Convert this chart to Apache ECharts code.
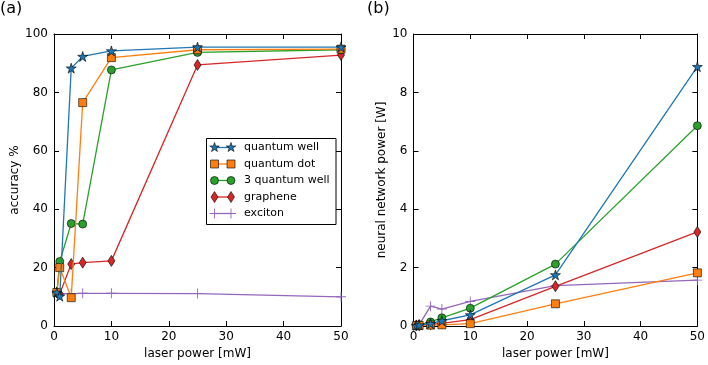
<!DOCTYPE html>
<html><head><meta charset="utf-8">
<script src="https://cdn.jsdelivr.net/npm/echarts@6/dist/echarts.min.js"></script>
<style>html,body{margin:0;padding:0;background:#fff}#c{width:708px;height:365px}</style>
</head><body><div id="c"></div>
<script>
// ---- data ----
const laserPower = [0.5, 1, 3, 5, 10, 25, 50];
const seriesNames = ['quantum well', 'quantum dot', '3 quantum well', 'graphene', 'exciton'];
const accQuantumWell   = [11.5, 10.2, 88.3, 92.3, 94.2, 95.5, 95.5];
const accQuantumDot    = [11.5, 20.0, 9.7, 76.5, 91.9, 94.6, 94.8];
const accThreeQW       = [11.5, 22.1, 35.1, 34.9, 87.7, 93.7, 94.6];
const accGraphene      = [11.5, 11.0, 21.2, 21.7, 22.3, 89.4, 92.8];
const accExciton       = [11.3, 11.0, 11.1, 11.2, 11.2, 11.1, 10.0];
const pwrQuantumWell   = [0.02, 0.03, 0.08, 0.18, 0.38, 1.75, 8.88];
const pwrQuantumDot    = [0.01, 0.02, 0.03, 0.04, 0.08, 0.76, 1.82];
const pwrThreeQW       = [0.02, 0.04, 0.14, 0.28, 0.61, 2.12, 6.86];
const pwrGraphene      = [0.02, 0.03, 0.06, 0.09, 0.22, 1.36, 3.22];
const pwrExciton       = [0.03, 0.05, 0.68, 0.58, 0.84, 1.38, 1.57];
const xTicks = [0, 10, 20, 30, 40, 50];
const accTicks = [0, 20, 40, 60, 80, 100];
const pwrTicks = [0, 2, 4, 6, 8, 10];

// ---- styles ----
const colors = ['#1f77b4', '#ff7f0e', '#2ca02c', '#d62728', '#9467bd'];
function starPts(cx, cy, R) {
  const r = R * 0.382, pts = [];
  for (let i = 0; i < 10; i++) {
    const a = -Math.PI / 2 + i * Math.PI / 5, rr = i % 2 ? r : R;
    pts.push([cx + rr * Math.cos(a), cy + rr * Math.sin(a)]);
  }
  return pts;
}
const starPath = 'path://' + starPts(10, 10, 10).map((p, i) => (i ? 'L' : 'M') + p[0].toFixed(2) + ',' + p[1].toFixed(2)).join(' ') + 'Z';
const plusPath = 'path://M4.55,0 L5.45,0 L5.45,4.55 L10,4.55 L10,5.45 L5.45,5.45 L5.45,10 L4.55,10 L4.55,5.45 L0,5.45 L0,4.55 L4.55,4.55 Z';
const symbols = [starPath, 'rect', 'circle', 'diamond', plusPath];
const symSizes = [10, 8, 8, [7, 11], 10];

const accData = [accQuantumWell, accQuantumDot, accThreeQW, accGraphene, accExciton];
const pwrData = [pwrQuantumWell, pwrQuantumDot, pwrThreeQW, pwrGraphene, pwrExciton];

function mkSeries(arr, xi, yi) {
  return arr.map((vals, k) => ({
    name: seriesNames[k], type: 'line', xAxisIndex: xi, yAxisIndex: yi,
    data: laserPower.map((x, i) => [x, vals[i]]),
    symbol: symbols[k], symbolSize: symSizes[k], showSymbol: true,
    lineStyle: { color: colors[k], width: 1.3 },
    itemStyle: { color: colors[k], borderColor: k === 4 ? colors[k] : '#000', borderWidth: k === 4 ? 0 : 0.6, opacity: 1 },
    z: 3 + (4 - k), animation: false, clip: true
  }));
}

const font = 'DejaVu Sans';
function xAx(grid, bottom) {
  return {
    type: 'value', gridIndex: grid, min: 0, max: 50, interval: 10, position: bottom ? 'bottom' : 'top',
    name: bottom ? 'laser power [mW]' : '', nameLocation: 'middle', nameGap: 22,
    nameTextStyle: { color: '#000', fontSize: 12, fontFamily: font },
    axisLine: { show: true, onZero: false, lineStyle: { color: '#000', width: 1 } },
    axisTick: { show: true, inside: true, length: 5, lineStyle: { color: '#000' } },
    axisLabel: { show: bottom, color: '#000', fontSize: 12, fontFamily: font, margin: 5 },
    splitLine: { show: false }
  };
}
function yAx(grid, left, max, interval, name, gap) {
  return {
    type: 'value', gridIndex: grid, min: 0, max: max, interval: interval, position: left ? 'left' : 'right',
    name: left ? name : '', nameLocation: 'middle', nameGap: gap,
    nameTextStyle: { color: '#000', fontSize: 12, fontFamily: font },
    axisLine: { show: true, onZero: false, lineStyle: { color: '#000', width: 1 } },
    axisTick: { show: true, inside: true, length: 5, lineStyle: { color: '#000' } },
    axisLabel: { show: left, color: '#000', fontSize: 12, fontFamily: font, margin: 6 },
    splitLine: { show: false }
  };
}

// legend drawn manually (matplotlib style)
const legEls = [{ type: 'rect', shape: { x: 206.5, y: 138.5, width: 129.5, height: 86 }, style: { fill: '#fff', stroke: '#000', lineWidth: 1 }, z: 100 }];
seriesNames.forEach((n, k) => {
  const y = 147.5 + k * 16.5, x1 = 214.5, x2 = 231;
  legEls.push({ type: 'line', shape: { x1: x1, y1: y, x2: x2, y2: y }, style: { stroke: colors[k], lineWidth: 1.3 }, z: 101 });
  [x1, x2].forEach(cx => {
    let el;
    if (k === 0) el = { type: 'polygon', shape: { points: starPts(cx, y, 5) } };
    else if (k === 1) el = { type: 'rect', shape: { x: cx - 4, y: y - 4, width: 8, height: 8 } };
    else if (k === 2) el = { type: 'circle', shape: { cx: cx, cy: y, r: 4 } };
    else if (k === 3) el = { type: 'polygon', shape: { points: [[cx, y - 5.5], [cx + 3.5, y], [cx, y + 5.5], [cx - 3.5, y]] } };
    else el = { type: 'polygon', shape: { points: [[cx - 0.45, y - 5], [cx + 0.45, y - 5], [cx + 0.45, y - 0.45], [cx + 5, y - 0.45], [cx + 5, y + 0.45], [cx + 0.45, y + 0.45], [cx + 0.45, y + 5], [cx - 0.45, y + 5], [cx - 0.45, y + 0.45], [cx - 5, y + 0.45], [cx - 5, y - 0.45], [cx - 0.45, y - 0.45]] } };
    el.style = k === 4 ? { fill: colors[k] } : { fill: colors[k], stroke: '#000', lineWidth: 0.6 };
    el.z = 102;
    legEls.push(el);
  });
  legEls.push({ type: 'text', x: 244, y: y, style: { text: n, fill: '#000', fontSize: 11, fontFamily: font, verticalAlign: 'middle', textAlign: 'left' }, z: 102 });
});

const chart = echarts.init(document.getElementById('c'), null, { renderer: 'canvas' });
chart.setOption({
  animation: false,
  backgroundColor: '#fff',
  grid: [
    { left: 54, top: 34, width: 287, height: 293 },
    { left: 413.5, top: 34, width: 286.5, height: 293 }
  ],
  xAxis: [xAx(0, true), xAx(0, false), xAx(1, true), xAx(1, false)],
  yAxis: [
    yAx(0, true, 100, 20, 'accuracy %', 26), yAx(0, false, 100, 20, '', 0),
    yAx(1, true, 10, 2, 'neural network power [W]', 26), yAx(1, false, 10, 2, '', 0)
  ],
  series: mkSeries(accData, 0, 0).concat(mkSeries(pwrData, 2, 2)),
  graphic: [
    { type: 'text', left: 0, top: 1, style: { text: '(a)', fontSize: 16, fontFamily: font, fill: '#000' } },
    { type: 'text', left: 367, top: 1, style: { text: '(b)', fontSize: 16, fontFamily: font, fill: '#000' } }
  ].concat(legEls)
});
</script></body></html>
